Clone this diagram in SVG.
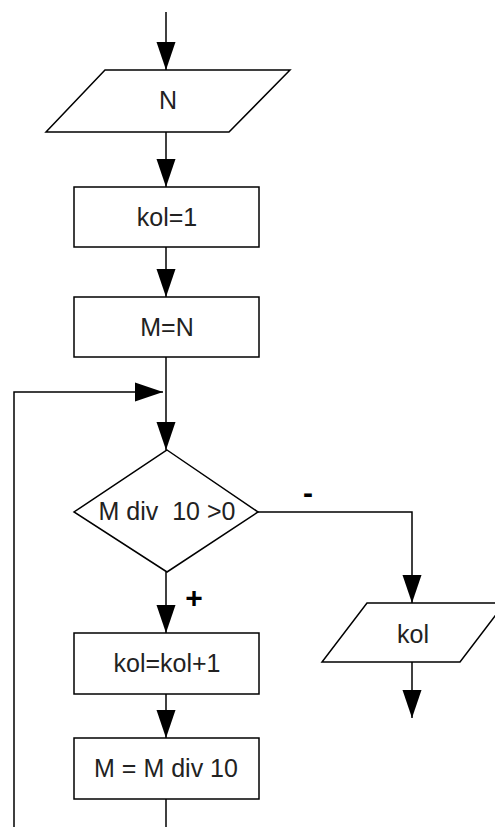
<svg xmlns="http://www.w3.org/2000/svg" width="495" height="827" viewBox="0 0 495 827">
<style>
.shape{fill:#fff;stroke:#000;stroke-width:1.5}
.conn{fill:none;stroke:#000;stroke-width:1.5}
.t{font-family:"Liberation Sans",Arial,sans-serif;font-size:25px;fill:#222;text-anchor:middle;white-space:pre}
.lbl{font-family:"Liberation Sans",Arial,sans-serif;font-size:30px;font-weight:bold;fill:#000;text-anchor:middle}
</style>
<defs>
<marker id="ah" markerUnits="userSpaceOnUse" markerWidth="28" markerHeight="20" viewBox="0 0 28 20" refX="28" refY="10" orient="auto">
<path d="M0,0.5 L28,10 L0,19.5 z" fill="#000"/>
</marker>
</defs>
<rect width="495" height="827" fill="#fff"/>
<g id="connectors">
<line class="conn" x1="166" y1="12" x2="166" y2="70" marker-end="url(#ah)"/>
<line class="conn" x1="166" y1="132" x2="166" y2="187" marker-end="url(#ah)"/>
<line class="conn" x1="166" y1="247" x2="166" y2="297" marker-end="url(#ah)"/>
<line class="conn" x1="166" y1="357" x2="166" y2="450" marker-end="url(#ah)"/>
<polyline class="conn" points="14,827 14,392 163,392" marker-end="url(#ah)"/>
<line class="conn" x1="166" y1="572" x2="166" y2="633" marker-end="url(#ah)"/>
<line class="conn" x1="166" y1="694" x2="166" y2="738" marker-end="url(#ah)"/>
<line class="conn" x1="166" y1="799" x2="166" y2="827"/>
<polyline class="conn" points="258,512 412,512 412,603" marker-end="url(#ah)"/>
<line class="conn" x1="412" y1="662" x2="412" y2="718" marker-end="url(#ah)"/>
<text class="lbl" x="308" y="503">-</text>
<text class="lbl" x="194" y="608">+</text>
</g>
<g id="input-N">
<polygon class="shape" points="105,70 290,70 229,132 46,132"/>
<text class="t" x="168" y="109">N</text>
</g>
<g id="kol-1">
<rect class="shape" x="74" y="187" width="185" height="60"/>
<text class="t" x="167" y="226">kol=1</text>
</g>
<g id="M-N">
<rect class="shape" x="74" y="297" width="185" height="60"/>
<text class="t" x="167" y="336">M=N</text>
</g>
<g id="decision">
<polygon class="shape" points="167,450 258,512 167,572 74,512"/>
<text class="t" x="167" y="520">M div  10 &gt;0</text>
</g>
<g id="kol-inc">
<rect class="shape" x="74" y="633" width="185" height="61"/>
<text class="t" x="167" y="672">kol=kol+1</text>
</g>
<g id="M-div">
<rect class="shape" x="74" y="738" width="185" height="61"/>
<text class="t" x="166" y="777">M = M div 10</text>
</g>
<g id="output-kol">
<polygon class="shape" points="367,603 505,603 460,662 322,662"/>
<text class="t" x="413" y="643">kol</text>
</g>
</svg>
